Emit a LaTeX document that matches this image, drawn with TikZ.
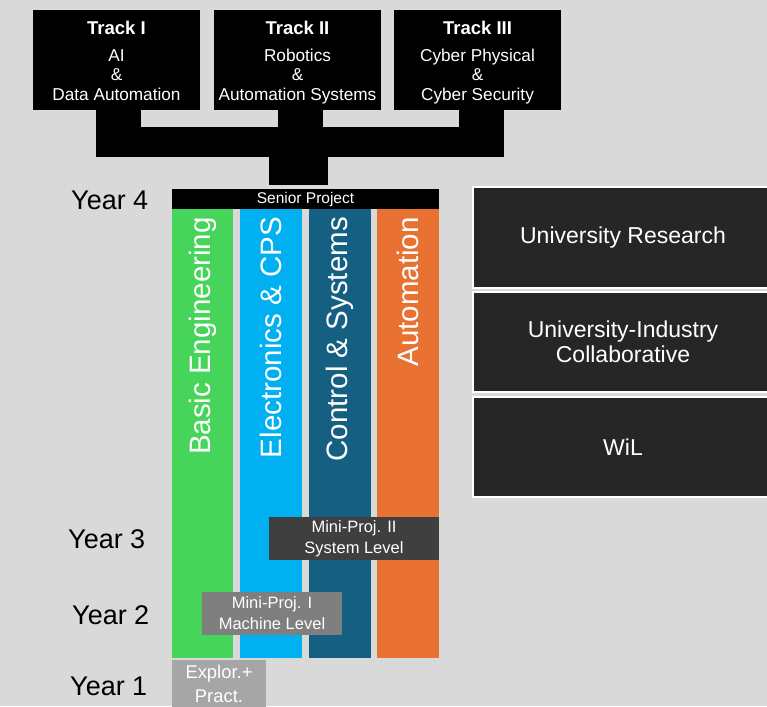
\documentclass[tikz,border=0pt]{standalone}
\usepackage{fontspec}
\setmainfont{Liberation Sans}
\definecolor{bg}{HTML}{D9D9D9}
\definecolor{cgreen}{HTML}{47D45A}
\definecolor{cblue}{HTML}{00B0F0}
\definecolor{cdark}{HTML}{156082}
\definecolor{corange}{HTML}{E97132}
\definecolor{cbox}{HTML}{262626}
\definecolor{mptwo}{HTML}{3F3F3F}
\definecolor{mpone}{HTML}{7F7F7F}
\definecolor{expl}{HTML}{A6A6A6}
\begin{document}
\begin{tikzpicture}[x=1pt,y=-1pt,
  blk/.style={rectangle, inner sep=0pt, outer sep=0pt, draw=none, anchor=north west},
  track/.style={blk, fill=black, minimum width=167pt, minimum height=100pt},
  tracktitle/.style={anchor=base, inner sep=0pt, text=white, font=\bfseries\fontsize{18.5}{20}\selectfont},
  tracksub/.style={anchor=base, inner sep=0pt, text=white, align=center, font=\fontsize{17.2}{19.5}\selectfont},
  stub/.style={line width=45pt, draw=black},
  stem/.style={line width=59pt, draw=black},
  col/.style={blk, minimum height=449pt},
  collabel/.style={rotate=90, anchor=east, inner sep=0pt, text=white, font=\fontsize{29.5}{32}\selectfont},
  mini/.style={blk, text=white, align=center, minimum height=43pt, font=\fontsize{16.5}{21}\selectfont},
  side/.style={blk, fill=cbox, draw=white, line width=1.2pt, minimum width=300pt, text=white, align=center, font=\fontsize{23}{25}\selectfont},
  year/.style={anchor=base west, inner sep=0pt, text=black, font=\fontsize{27}{30}\selectfont}]
\useasboundingbox[fill=bg] (0,0) rectangle (767,706);

% Track boxes
\node[track] (t1) at (33,10) {};
\node[track] (t2) at (214,10) {};
\node[track] (t3) at (394,10) {};
\node[tracktitle] (t1title) at (t1.center |- 0,35) {Track I};
\node[tracktitle] (t2title) at (t2.center |- 0,35) {Track II};
\node[tracktitle] (t3title) at (t3.center |- 0,35) {Track III};
\node[tracksub] (t1sub) at (t1.center |- 0,100) {AI\\\&\\Data Automation};
\node[tracksub] (t2sub) at (t2.center |- 0,100) {Robotics\\\&\\Automation Systems};
\node[tracksub] (t3sub) at (t3.center |- 0,100) {Cyber Physical\\\&\\Cyber Security};

% connector bar
\node[blk, fill=black, minimum width=408pt, minimum height=30pt] (bar) at (96,127) {};
\draw[stub] ([xshift=2pt]t1.south) -- ([xshift=2pt]t1.south |- bar.north);
\draw[stub] ([xshift=3pt]t2.south) -- ([xshift=3pt]t2.south |- bar.north);
\draw[stub] ([xshift=4pt]t3.south) -- ([xshift=4pt]t3.south |- bar.north);

% senior project
\node[blk, fill=black, minimum width=267pt, minimum height=20pt, text=white, font=\fontsize{15.5}{17}\selectfont] (senior) at (172,189) {Senior Project};
\draw[stem, shorten >=4pt] ([xshift=-7pt]senior.north |- bar.south) -- ([xshift=-7pt]senior.north);

% columns
\node[col, fill=cgreen, minimum width=61pt] (c1) at (172,209) {};
\node[col, fill=cblue, minimum width=62pt] (c2) at (240,209) {};
\node[col, fill=cdark, minimum width=62pt] (c3) at (309,209) {};
\node[col, fill=corange, minimum width=62pt] (c4) at (377,209) {};
\node[collabel] (l1) at (c1.center |- 0,217) {Basic Engineering};
\node[collabel] (l2) at (c2.center |- 0,217) {Electronics \& CPS};
\node[collabel] (l3) at (c3.center |- 0,217) {Control \& Systems};
\node[collabel] (l4) at (c4.center |- 0,217) {Automation};

% mini projects
\node[mini, fill=mptwo, minimum width=170pt] (mp2) at (269,517) {Mini-Proj. II\\System Level};
\node[mini, fill=mpone, minimum width=140pt] (mp1) at (202,592) {Mini-Proj. I\\Machine Level};
\node[blk, fill=expl, minimum width=94pt, minimum height=48pt, text=white, align=center, font=\fontsize{18.4}{24}\selectfont] (ex) at (172,660) {Explor.+\\Pract.};

% side boxes
\node[side, minimum height=101pt] (s1) at (473,187) {University Research};
\node[side, minimum height=100pt] (s2) at (473,292) {University-Industry\\Collaborative};
\node[side, minimum height=100pt] (s3) at (473,397) {WiL};

% years
\node[year] (y4) at (71,209) {Year 4};
\node[year] (y3) at (68,548) {Year 3};
\node[year] (y2) at (72,624) {Year 2};
\node[year] (y1) at (70,695) {Year 1};
\end{tikzpicture}
\end{document}
